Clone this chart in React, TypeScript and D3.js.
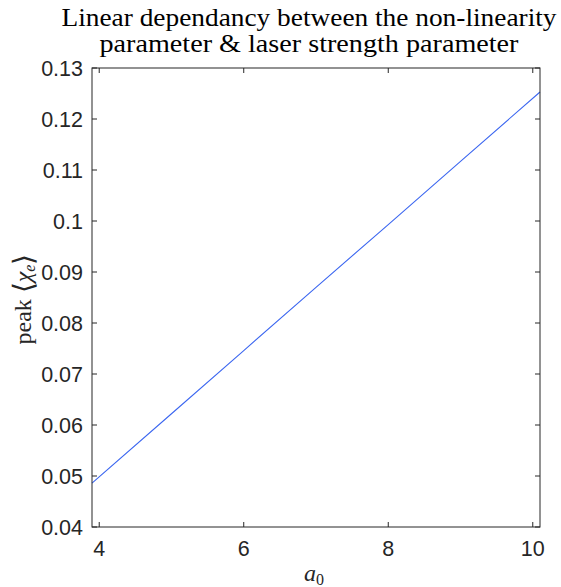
import React from "react";
import * as d3 from "d3";

const a0Values = [3.9, 5, 6, 7, 8, 9, 10.1];
const peakChi = [0.0486, 0.0622, 0.0746, 0.087, 0.0993, 0.1117, 0.1253];
const xTicks = [4, 6, 8, 10];
const yTicks = [0.04, 0.05, 0.06, 0.07, 0.08, 0.09, 0.1, 0.11, 0.12, 0.13];
const titleLines = [
  "Linear dependancy between the non-linearity",
  "parameter & laser strength parameter",
];
const titleWidths = [495, 419];

const W = 561;
const H = 587;
const L = 92, R = 540, T = 68, B = 527;

export default function App() {
  const x = d3.scaleLinear().domain([3.9, 10.1]).range([L, R]);
  const y = d3.scaleLinear().domain([0.04, 0.13]).range([B, T]);
  const line = d3
    .line<number>()
    .x((_, i) => x(a0Values[i]))
    .y((d) => y(d));
  const axisColor = "#262626";
  const tickLen = 5;
  const sans = "Liberation Sans, Arial, Helvetica, sans-serif";
  const serif = "Liberation Serif, serif";
  return (
    <svg
      width={W}
      height={H}
      style={{ position: "absolute", left: 0, top: 0, background: "#fff" }}
    >
      <rect x={0} y={0} width={W} height={H} fill="#fff" />
      {titleLines.map((t, i) => (
        <text
          key={i}
          x={309}
          y={26 + i * 26}
          textAnchor="middle"
          fontFamily={serif}
          fontSize={25}
          textLength={titleWidths[i]}
          lengthAdjust="spacingAndGlyphs"
          fill="#000"
        >
          {t}
        </text>
      ))}
      <path d={line(peakChi) || ""} fill="none" stroke="#3b66f0" strokeWidth={1.1} />
      <rect x={L} y={T} width={R - L} height={B - T} fill="none" stroke={axisColor} strokeWidth={1} />
      {xTicks.map((t) => (
        <g key={t}>
          <line x1={x(t)} x2={x(t)} y1={B} y2={B - tickLen} stroke={axisColor} />
          <line x1={x(t)} x2={x(t)} y1={T} y2={T + tickLen} stroke={axisColor} />
          <text
            x={x(t)}
            y={B + 29}
            textAnchor="middle"
            fontFamily={sans}
            fontSize={21.5}
            fill={axisColor}
          >
            {t}
          </text>
        </g>
      ))}
      {yTicks.map((t) => (
        <g key={t}>
          <line x1={L} x2={L + tickLen} y1={y(t)} y2={y(t)} stroke={axisColor} />
          <line x1={R} x2={R - tickLen} y1={y(t)} y2={y(t)} stroke={axisColor} />
          <text
            x={L - 9}
            y={y(t) + 7.5}
            textAnchor="end"
            fontFamily={sans}
            fontSize={21.5}
            fill={axisColor}
          >
            {d3.format("~g")(t)}
          </text>
        </g>
      ))}
      <text
        x={314}
        y={581}
        textAnchor="middle"
        fontFamily={serif}
        fontSize={24}
        fill={axisColor}
      >
        <tspan fontStyle="italic">a</tspan>
        <tspan fontSize={16} dy={4}>0</tspan>
      </text>
      <text
        transform={`translate(31, 299) rotate(-90)`}
        textAnchor="middle"
        fontFamily={serif}
        fontSize={24}
        fill={axisColor}
      >
        peak <tspan fontSize={28} dy={2}>⟨</tspan>
        <tspan fontStyle="italic" dy={-2}>χ</tspan>
        <tspan fontStyle="italic" fontSize={16} dy={4}>e</tspan>
        <tspan fontSize={28} dy={-2}>⟩</tspan>
      </text>
    </svg>
  );
}
